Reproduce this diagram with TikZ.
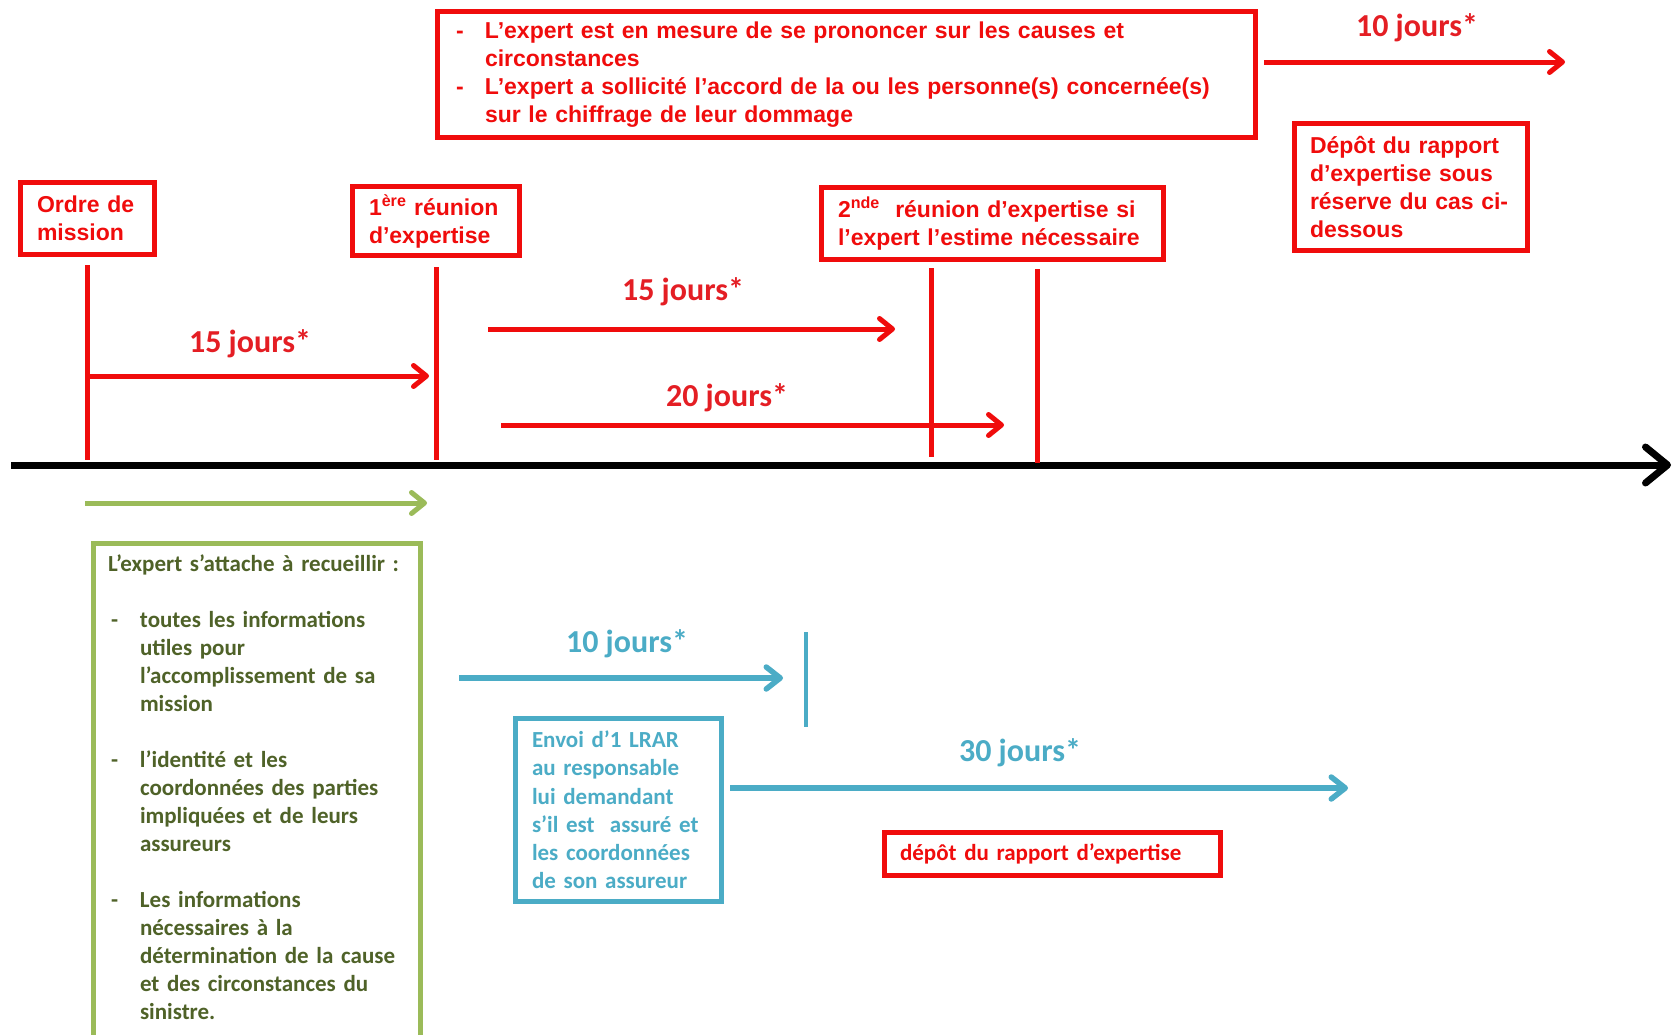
\documentclass[tikz,border=0pt]{standalone}
\usepackage{fontspec}
\setmainfont{Liberation Sans}
\newfontfamily\calfont{Carlito}
\usetikzlibrary{arrows.meta}
\definecolor{bred}{RGB}{240,12,12}
\definecolor{lred}{RGB}{228,30,36}
\definecolor{grn}{RGB}{155,187,89}
\definecolor{grntxt}{RGB}{79,98,40}
\definecolor{blu}{RGB}{75,172,198}
\begin{document}
\begin{tikzpicture}[x=1pt,y=-1pt,
  redbox/.style={draw=bred, line width=5pt, text=bred, font=\bfseries\fontsize{23}{28}\selectfont, align=left, inner ysep=0pt},
  lbl/.style={font=\calfont\bfseries\fontsize{32}{36}\selectfont, anchor=base},
  redarrow/.style={draw=bred, line width=5pt, -{Straight Barb[length=13pt,width=21pt,round]}},
  grnarrow/.style={draw=grn, line width=5pt, -{Straight Barb[length=13pt,width=21pt,round]}},
  bluarrow/.style={draw=blu, line width=5.5pt, -{Straight Barb[length=14pt,width=22pt,round]}},
  vline/.style={draw=bred, line width=5pt},
  axisline/.style={draw=black, line width=7pt, -{Straight Barb[length=22pt,width=36pt,round]}}
]
\clip (0,0) rectangle (1674,1034);
\fill[white] (0,0) rectangle (1674,1034);

% axis
\coordinate (axL) at (11,465);
\coordinate (axR) at (1671,465);
\draw[axisline] (axL) -- (axR);

% top red boxes
\node[redbox, text width=101pt, inner xsep=16.5pt, minimum height=72pt] (ordre) at (87.5,218.5) {Ordre de\\mission};
\node[redbox, text width=134pt, inner xsep=16.5pt, minimum height=69pt] (reu1) at (436,221) {1\textsuperscript{ère} réunion\\d’expertise};
\node[redbox, text width=309pt, inner xsep=16.5pt, minimum height=72pt] (reu2) at (992.5,223.5) {2\textsuperscript{nde}\ \ réunion d’expertise si\\l’expert l’estime nécessaire};
\node[redbox, text width=781pt, inner xsep=18.5pt, minimum height=126pt] (cond) at (846.5,74.5) {\makebox[29pt][l]{-}L’expert est en mesure de se prononcer sur les causes et\\\hspace*{29pt}circonstances\\\makebox[29pt][l]{-}L’expert a sollicité l’accord de la ou les personne(s) concernée(s)\\\hspace*{29pt}sur le chiffrage de leur dommage};
\node[redbox, text width=202pt, inner xsep=15.5pt, minimum height=127pt] (depot1) at (1411,187) {Dépôt du rapport\\d’expertise sous\\réserve du cas ci-\\dessous};

% vertical ticks
\draw[vline] ([yshift=-8pt]ordre.south) -- ([yshift=5pt]ordre.south |- axL);
\draw[vline] ([yshift=-9pt]reu1.south) -- ([yshift=5pt]reu1.south |- axL);
\draw[vline] ([xshift=-61.5pt,yshift=-6pt]reu2.south) -- ([xshift=-61.5pt,yshift=8pt]reu2.south |- axL);
\draw[vline] ([xshift=44.5pt,yshift=-7pt]reu2.south) -- ([xshift=44.5pt,yshift=2pt]reu2.south |- axL);

% red arrows
\coordinate (r1s) at (87.5,376);
\coordinate (r1e) at (429,376);
\draw[redarrow] (r1s) -- (r1e);
\node[lbl, text=lred] (l1) at (250,352) {15 jours*};

\coordinate (r2s) at (488,329);
\coordinate (r2e) at (895,329);
\draw[redarrow] (r2s) -- (r2e);
\node[lbl, text=lred] (l2) at (683,300) {15 jours*};

\coordinate (r3s) at (501,425);
\coordinate (r3e) at (1004,425);
\draw[redarrow] (r3s) -- (r3e);
\node[lbl, text=lred] (l3) at (727,406) {20 jours*};

\coordinate (r4s) at (1264,62);
\coordinate (r4e) at (1565,62);
\draw[redarrow] (r4s) -- (r4e);
\node[lbl, text=lred] (l4) at (1417,36) {10 jours*};

% green part
\coordinate (g1s) at (85,503);
\coordinate (g1e) at (427,503);
\draw[grnarrow] (g1s) -- (g1e);
\node[draw=grn, line width=5pt, text=grntxt, font=\calfont\bfseries\fontsize{23}{28}\selectfont, align=left, text width=298pt, inner xsep=14.5pt, inner ysep=12pt, anchor=north] (collect) at (257,540.5) {L’expert s’attache à recueillir :\\[28pt]
\makebox[32pt][l]{\hspace*{3pt}-}toutes les informations\\
\hspace*{32pt}utiles pour\\
\hspace*{32pt}l’accomplissement de sa\\
\hspace*{32pt}mission\\[28pt]
\makebox[32pt][l]{\hspace*{3pt}-}l’identité et les\\
\hspace*{32pt}coordonnées des parties\\
\hspace*{32pt}impliquées et de leurs\\
\hspace*{32pt}assureurs\\[28pt]
\makebox[32pt][l]{\hspace*{3pt}-}Les informations\\
\hspace*{32pt}nécessaires à la\\
\hspace*{32pt}détermination de la cause\\
\hspace*{32pt}et des circonstances du\\
\hspace*{32pt}sinistre.\\[30pt]\mbox{}};

% blue part
\coordinate (b1s) at (459,678);
\coordinate (b1e) at (783,678);
\draw[bluarrow] (b1s) -- (b1e);
\node[lbl, text=blu] (l5) at (627,652) {10 jours*};
\coordinate (btop) at (806,632);
\coordinate (bbot) at (806,727);
\draw[draw=blu, line width=4pt] (btop) -- (bbot);

\node[draw=blu, line width=5pt, text=blu, font=\calfont\bfseries\fontsize{23}{28.2}\selectfont, align=left, text width=173pt, inner xsep=16.5pt, inner ysep=0pt, minimum height=183pt] (lrar) at (618.5,810) {Envoi d’1 LRAR\\au responsable\\lui demandant\\s’il est\ \ assuré et\\les coordonnées\\de son assureur};

\coordinate (b2e) at (1348,788);
\draw[bluarrow] ([xshift=6pt]lrar.east |- b2e) -- (b2e);
\node[lbl, text=blu] (l6) at (1020,761) {30 jours*};

\node[draw=bred, line width=5pt, text=bred, font=\calfont\bfseries\fontsize{23}{28}\selectfont, align=left, text width=305pt, inner xsep=15.5pt, inner ysep=0pt, minimum height=43pt] (depot2) at (1052.5,854) {dépôt du rapport d’expertise};
\end{tikzpicture}
\end{document}
